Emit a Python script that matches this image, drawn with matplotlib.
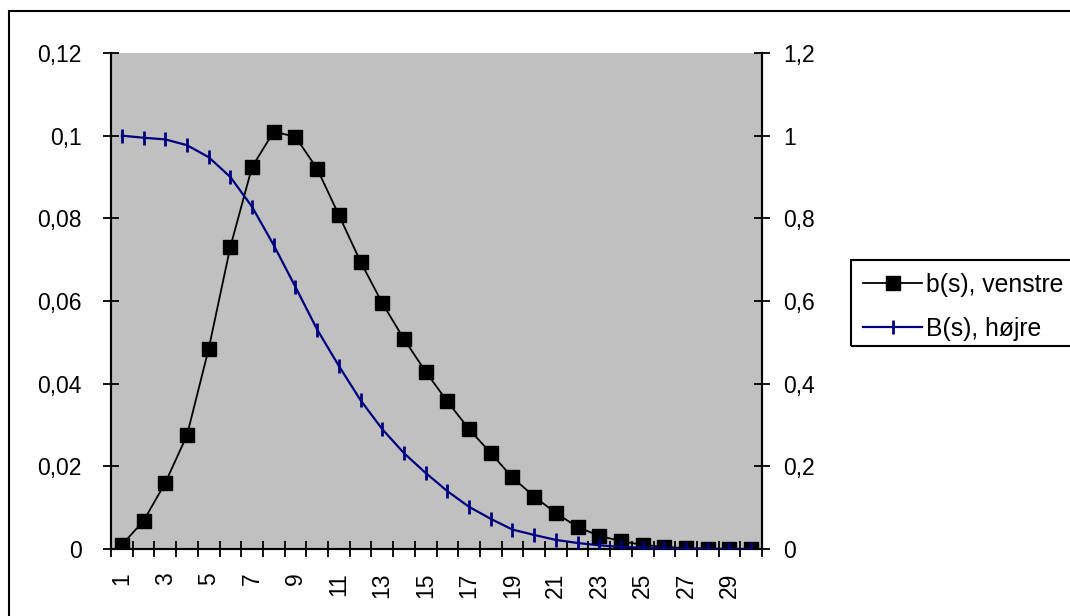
import matplotlib
matplotlib.use("Agg")
from matplotlib import pyplot as plt
from matplotlib.patches import Rectangle
from matplotlib.ticker import FixedLocator, FuncFormatter

plt.rcParams["font.family"] = ["Liberation Sans", "DejaVu Sans"]

S = list(range(1, 31))
B_SMALL = [0.001, 0.0068, 0.016, 0.0275, 0.0484, 0.0731, 0.0924, 0.101, 0.0997, 0.092,
           0.0808, 0.0695, 0.0595, 0.0508, 0.0429, 0.0357, 0.029, 0.0232, 0.0173, 0.0127,
           0.0087, 0.0053, 0.0032, 0.0019, 0.001, 0.0005, 0.0002, 0.0001, 0.0, 0.0]
B_BIG = [1.0, 0.995, 0.991, 0.977, 0.948, 0.9, 0.828, 0.735, 0.634, 0.531,
         0.443, 0.36, 0.29, 0.232, 0.184, 0.14, 0.102, 0.073, 0.047, 0.034,
         0.022, 0.0145, 0.009, 0.005, 0.003, 0.0015, 0.0008, 0.0004, 0.0002, 0.0001]
LEFT_TICKS = [0, 0.02, 0.04, 0.06, 0.08, 0.1, 0.12]
RIGHT_TICKS = [0, 0.2, 0.4, 0.6, 0.8, 1.0, 1.2]
LABELS = ["b(s), venstre", "B(s), højre"]

W, H = 1070, 616
FS = 16.5

fig = plt.figure(figsize=(W / 100, H / 100), dpi=100)
ax = fig.add_axes([111 / W, 1 - 549 / H, (762 - 111) / W, (549 - 53) / H])
ax.set_facecolor("#C0C0C0")
ax2 = ax.twinx()


def comma(v, pos):
    return f"{v:g}".replace(".", ",")


l1, = ax.plot(S, B_SMALL, color="black", lw=1.3, marker="s", markersize=10,
              markerfacecolor="black", markeredgecolor="black", zorder=3)
l2, = ax2.plot(S, B_BIG, color="#000080", lw=1.6, marker="|", markersize=10,
               markeredgewidth=2, zorder=3)

ax.set_xlim(0.5, 30.5)
ax.set_ylim(0, 0.12)
ax2.set_ylim(0, 1.2)

ax.yaxis.set_major_locator(FixedLocator(LEFT_TICKS))
ax.yaxis.set_major_formatter(FuncFormatter(comma))
ax2.yaxis.set_major_locator(FixedLocator(RIGHT_TICKS))
ax2.yaxis.set_major_formatter(FuncFormatter(comma))

# category boundaries get ticks, odd categories get labels
ax.xaxis.set_major_locator(FixedLocator([i + 0.5 for i in range(0, 31)]))
ax.xaxis.set_major_formatter(FuncFormatter(lambda v, p: ""))
ax.xaxis.set_minor_locator(FixedLocator(S[::2]))
ax.xaxis.set_minor_formatter(FuncFormatter(lambda v, p: f"{int(v)}"))

ax.tick_params(axis="x", which="major", direction="inout", length=12, width=1.3, color="black")
ax.tick_params(axis="x", which="minor", length=0, pad=17, labelsize=FS, labelrotation=90)
ax.tick_params(axis="y", direction="inout", length=12, width=1.3, pad=15, labelsize=FS)
ax2.tick_params(axis="y", direction="inout", length=12, width=1.3, pad=9, labelsize=FS)

for a in (ax, ax2):
    a.spines["top"].set_visible(False)
    for sp in ("left", "right", "bottom"):
        a.spines[sp].set_linewidth(1.5)
        a.spines[sp].set_color("black")

ax.legend([l1, l2], LABELS, loc="upper left", bbox_to_anchor=(858 / W, 1 - 268 / H),
          bbox_transform=fig.transFigure, frameon=False, fontsize=17.8, handlelength=2.4,
          handletextpad=0.15, labelspacing=0.8, borderaxespad=0, borderpad=0.2,
          numpoints=1)
fig.add_artist(Rectangle((851 / W, 1 - 346 / H), 0.3, (346 - 260) / H,
                         transform=fig.transFigure, fill=False, lw=1.5, ec="black"))
fig.add_artist(Rectangle((9 / W, -0.2), 1.2, 1.2 - 11 / H,
                         transform=fig.transFigure, fill=False, lw=1.5, ec="black"))

fig.savefig("out.png", dpi=100)
